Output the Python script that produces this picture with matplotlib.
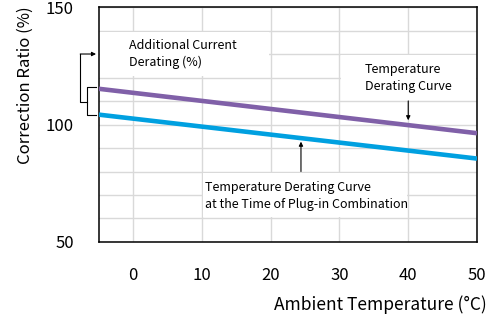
import matplotlib
matplotlib.use('Agg')
import matplotlib.pyplot as plt
from matplotlib.patches import Rectangle

plt.rcParams['font.family'] = ['Noto Sans CJK JP', 'DejaVu Sans']

# data
temps = [-5, 50]
temp_curve = [115.2, 96.3]      # Temperature Derating Curve
plugin_curve = [104.2, 85.5]    # at the Time of Plug-in Combination
x_ticks = [0, 10, 20, 30, 40, 50]
y_ticks = [50, 100, 150]

purple = '#8060a8'
blue = '#00a0e0'

fig = plt.figure(figsize=(4.94, 3.19), dpi=100)
ax = fig.add_axes([0.2, 0.2414, 0.7656, 0.7366])

ax.set_xlim(-5, 50)
ax.set_ylim(50, 150)
ax.set_xticks(x_ticks)
ax.set_yticks(y_ticks)
ax.set_xticks(range(0, 51, 10), minor=True)
ax.set_yticks(range(60, 150, 10), minor=True)
ax.grid(which='both', color='#d9d9d9', lw=1.0, zorder=0)
ax.tick_params(which='both', length=0, labelsize=12)
ax.tick_params(axis='x', pad=18)
ax.tick_params(axis='y', pad=18)
for s in ax.spines.values():
    s.set_color('black')
    s.set_linewidth(1.1)
ax.set_axisbelow(True)

# white boxes behind the labels hide the grid there
for (x0, y0, w, h) in [(-5, 120, 25, 20), (30, 110, 20, 20), (10, 60, 30, 20)]:
    ax.add_patch(Rectangle((x0 + 0.2, y0 + 0.5), w - 0.4, h - 1.0,
                           facecolor='white', edgecolor='none', zorder=1))

ax.plot(temps, temp_curve, color=purple, lw=3.3, solid_capstyle='butt', zorder=3)
ax.plot(temps, plugin_curve, color=blue, lw=3.3, solid_capstyle='butt', zorder=3)

fs = 9
ax.text(-0.6, 130, 'Additional Current\nDerating (%)', fontsize=fs,
        ha='left', va='center', linespacing=1.4, zorder=4)
ax.text(40, 120, 'Temperature\nDerating Curve', fontsize=fs,
        ha='center', va='center', multialignment='left', linespacing=1.4, zorder=4)
ax.text(10.4, 69.5, 'Temperature Derating Curve\nat the Time of Plug-in Combination',
        fontsize=fs, ha='left', va='center', linespacing=1.4, zorder=4)

arrow = dict(arrowstyle='-|>', lw=0.8, color='black', mutation_scale=6,
             shrinkA=0, shrinkB=0)
# arrow down to the temperature curve at 40 C
ax.annotate('', xy=(40, 101.8), xytext=(40, 110), arrowprops=arrow, zorder=4)
# arrow up to the plug-in curve
ax.annotate('', xy=(24.4, 92.7), xytext=(24.4, 80), arrowprops=arrow, zorder=4)

# bracket on the left between the two curves
xb = -6.65
xt = -5.4
xo = -7.7
ymid = (temp_curve[0] + plugin_curve[0]) / 2
bk = dict(color='black', lw=0.8, clip_on=False, zorder=4)
ax.plot([xt, xb, xb, xt], [temp_curve[0] + 0.6, temp_curve[0] + 0.6,
                           plugin_curve[0] - 0.3, plugin_curve[0] - 0.3], **bk)
ax.plot([xb, xo, xo], [ymid, ymid, 130], **bk)
ax.annotate('', xy=(xt, 130), xytext=(xo, 130), arrowprops=arrow,
            annotation_clip=False, zorder=4)

fig.text(25 / 494, 1 - 85 / 319, 'Correction Ratio (%)', rotation=90,
         fontsize=12, ha='center', va='center')
fig.text(487 / 494, 1 - 305 / 319, 'Ambient Temperature (°C)',
         fontsize=12.5, ha='right', va='center')

fig.savefig('out.png', dpi=100)
